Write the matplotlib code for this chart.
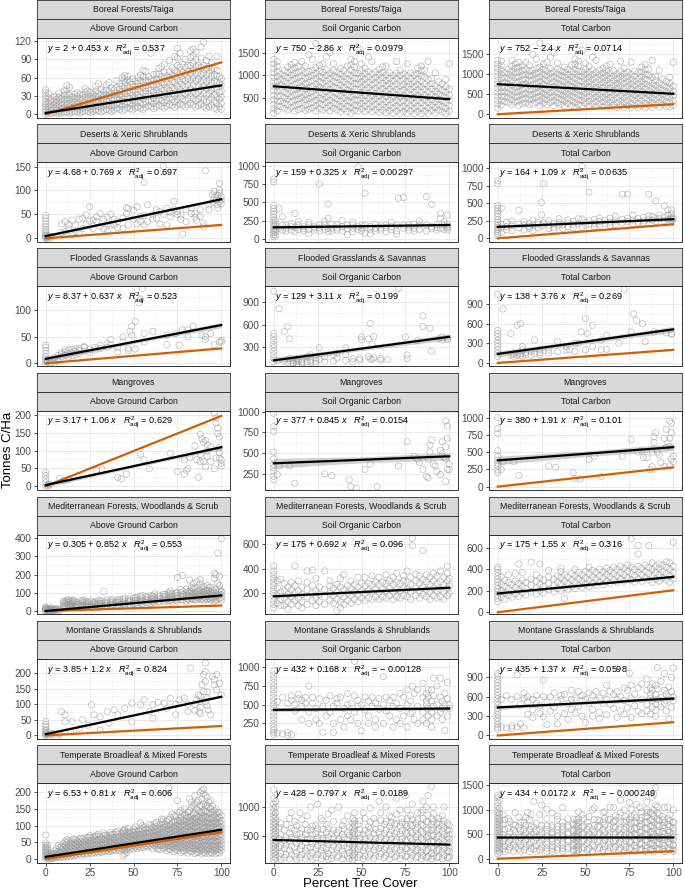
import numpy as np
import matplotlib
matplotlib.use("Agg")
import matplotlib.pyplot as plt
from matplotlib.ticker import FixedLocator, AutoMinorLocator

plt.rcParams['font.family'] = ['Liberation Sans', 'DejaVu Sans']
plt.rcParams['mathtext.fontset'] = 'custom'
plt.rcParams['mathtext.rm'] = 'Liberation Sans'
plt.rcParams['mathtext.it'] = 'Liberation Sans:italic'

biomes = ['Boreal Forests/Taiga', 'Deserts & Xeric Shrublands', 'Flooded Grasslands & Savannas',
          'Mangroves', 'Mediterranean Forests, Woodlands & Scrub', 'Montane Grasslands & Shrublands',
          'Temperate Broadleaf & Mixed Forests']
pools = ['Above Ground Carbon', 'Soil Organic Carbon', 'Total Carbon']

# fitted lines (intercept, slope, adj R2)
agc_a = [2, 4.68, 8.37, 3.17, 0.305, 3.85, 6.53]
agc_b = [0.453, 0.769, 0.637, 1.06, 0.852, 1.2, 0.81]
agc_r2 = ['0.537', '0.697', '0.523', '0.629', '0.553', '0.824', '0.606']
soc_a = [750, 159, 129, 377, 175, 432, 428]
soc_b = [-2.86, 0.325, 3.11, 0.845, 0.692, 0.168, -0.797]
soc_r2 = ['0.0979', '0.00297', '0.199', '0.0154', '0.096', '-0.00128', '0.0189']
tot_a = [752, 164, 138, 380, 175, 435, 434]
tot_b = [-2.4, 1.09, 3.76, 1.91, 1.55, 1.37, 0.0172]
tot_r2 = ['0.0714', '0.0635', '0.269', '0.101', '0.316', '0.0598', '-0.000249']

# confidence band half widths at x = 0, 50, 100
agc_band = [(1, 0.5, 1), (3, 2, 3), (5, 3, 5), (6, 4, 6), (2, 1, 2), (3, 2, 3), (1, 0.5, 1)]
soc_band = [(8, 5, 8), (12, 8, 12), (40, 25, 40), (60, 35, 45), (10, 6, 10), (25, 15, 25), (6, 4, 6)]
tot_band = [(8, 5, 8), (15, 10, 15), (45, 30, 45), (60, 40, 50), (12, 8, 12), (30, 20, 30), (7, 5, 7)]

# orange reference line value at 100% cover (AGC and total only)
agc_ref = [85, 28, 28, 197, 30, 30, 80]
tot_ref = [250, 200, 200, 280, 205, 205, 155]

# scatter points, as (tree cover, [carbon values])
bor_agc = [(0, [0, 4, 8, 12, 16, 20, 25, 30, 35, 40]), (3, [1, 6, 11, 16, 22]), (6, [2, 7, 12, 18, 24, 30]),
           (9, [2, 8, 14, 20, 26]), (12, [3, 9, 15, 21, 27, 33, 40, 47]), (15, [3, 9, 15, 21, 28]),
           (18, [4, 10, 16, 22, 29, 35]), (21, [4, 10, 17, 24, 31]), (24, [5, 11, 18, 25, 32, 38]),
           (27, [5, 12, 19, 26, 33]), (30, [6, 13, 20, 27, 34, 50]), (33, [6, 13, 21, 29, 36]),
           (36, [7, 14, 22, 30, 38, 52]), (39, [7, 15, 23, 31, 40]), (42, [8, 16, 24, 32, 41, 50]),
           (45, [8, 16, 25, 34, 43, 52, 58, 63]), (48, [9, 17, 26, 35, 44, 53]), (51, [10, 18, 27, 36, 45, 54]),
           (54, [10, 19, 28, 37, 46, 55, 64]), (57, [11, 20, 29, 38, 47, 56, 70]),
           (60, [12, 21, 30, 39, 48, 57, 100]), (63, [12, 22, 31, 40, 49, 58, 66]),
           (66, [13, 22, 32, 42, 52, 62, 78]), (69, [13, 23, 33, 43, 53, 63]),
           (72, [14, 24, 34, 44, 54, 64, 76]), (75, [14, 24, 35, 46, 57, 68, 80, 92, 108]),
           (78, [15, 25, 36, 47, 58, 69, 82]), (81, [15, 26, 37, 48, 59, 70, 80]),
           (84, [15, 26, 37, 48, 60, 72, 84, 96, 107]), (87, [14, 25, 36, 47, 58, 69, 80]),
           (90, [13, 24, 35, 46, 57, 68, 80, 118]), (93, [12, 23, 34, 45, 56, 67, 78, 95]),
           (96, [10, 21, 32, 43, 54, 65, 75]), (100, [8, 18, 28, 38, 48, 58])]
bor_agc2 = [(1.5, [2, 7, 13, 19, 27, 34]), (4.5, [3, 9, 15, 21, 28]), (7.5, [1, 5, 10, 16, 22, 28, 35]),
            (10.5, [4, 10, 17, 24, 31, 38]), (13.5, [2, 6, 12, 18, 25, 32, 44]), (16.5, [5, 12, 19, 26, 33]),
            (19.5, [2, 7, 13, 19, 26, 33]), (22.5, [6, 13, 20, 28, 36, 42]), (25.5, [3, 8, 15, 22, 29, 36]),
            (28.5, [7, 14, 22, 30, 38, 46]), (31.5, [4, 10, 17, 24, 32, 40]), (34.5, [8, 16, 24, 32, 40, 48]),
            (37.5, [5, 11, 18, 26, 34, 43]), (40.5, [10, 18, 27, 35, 44, 55]),
            (43.5, [6, 13, 21, 29, 37, 46, 60]), (46.5, [11, 20, 29, 38, 47, 56, 62]),
            (49.5, [7, 14, 22, 31, 40, 49, 58]), (52.5, [12, 22, 32, 41, 50, 60]),
            (55.5, [8, 16, 25, 34, 43, 52, 61, 72]), (58.5, [14, 23, 33, 43, 53, 62]),
            (61.5, [9, 17, 26, 36, 46, 55, 65]), (64.5, [15, 25, 35, 46, 56, 66, 75]),
            (67.5, [10, 19, 29, 39, 49, 59, 69, 82]), (70.5, [16, 27, 38, 49, 60, 70, 88]),
            (73.5, [11, 20, 30, 41, 52, 62, 72, 95]), (76.5, [17, 29, 41, 53, 65, 77, 100]),
            (79.5, [12, 22, 33, 44, 55, 66, 77, 90]), (82.5, [18, 30, 42, 55, 67, 80, 93, 104]),
            (85.5, [12, 22, 33, 44, 55, 66, 78, 90, 102]), (88.5, [17, 29, 41, 53, 65, 77, 92, 110]),
            (91.5, [10, 20, 31, 42, 53, 64, 75, 88]), (94.5, [15, 27, 39, 51, 62, 73, 84]),
            (97.5, [8, 18, 28, 40, 52, 63, 72, 95]), (99, [12, 24, 36, 50, 62])]
bor_soc = [(0, [150, 250, 350, 450, 550, 650, 750, 850, 950, 1050, 1150, 1250, 1350]),
           (4, [300, 420, 540, 660, 780, 900, 1020]), (8, [220, 340, 460, 580, 700, 820, 940, 1060, 1180]),
           (12, [200, 320, 440, 560, 680, 800, 920, 1040, 1160, 1280]),
           (16, [260, 380, 500, 620, 740, 860, 980, 1100, 1300]),
           (20, [240, 360, 480, 600, 720, 840, 960, 1080, 1450]),
           (24, [200, 320, 440, 560, 680, 800, 920, 1040, 1160, 1700]),
           (28, [220, 340, 460, 580, 700, 820, 940, 1060, 1250]),
           (32, [200, 320, 440, 560, 680, 800, 920, 1040, 1500]),
           (36, [230, 350, 470, 590, 710, 830, 950, 1070]), (40, [250, 370, 490, 610, 730, 850, 970, 1100]),
           (44, [150, 270, 390, 510, 630, 750, 870, 990, 1110, 1230, 1350]),
           (48, [200, 320, 440, 560, 680, 800, 920, 1040, 1600]),
           (52, [190, 310, 430, 550, 670, 790, 910, 1030, 1150]),
           (56, [180, 300, 420, 540, 660, 780, 900, 1020, 1300]),
           (60, [170, 290, 410, 530, 650, 770, 890, 1010, 1130]),
           (64, [160, 280, 400, 520, 640, 760, 880, 1000, 1200]),
           (68, [150, 270, 390, 510, 630, 750, 870, 990]),
           (72, [150, 270, 390, 510, 630, 750, 870, 990, 1100]),
           (76, [140, 260, 380, 500, 620, 740, 860, 980, 1250]),
           (80, [140, 260, 380, 500, 620, 740, 860, 1000]),
           (84, [140, 260, 380, 500, 620, 740, 860, 980, 1100, 1200]),
           (88, [150, 270, 390, 510, 630, 750, 900, 1300]), (92, [160, 280, 400, 520, 640, 760, 1050]),
           (96, [180, 300, 420, 540, 660, 800]), (100, [200, 320, 440, 560, 680, 1250])]
bor_soc2 = [(2, [200, 310, 420, 530, 640, 750, 860, 970, 1080, 1190, 1300]),
            (6, [260, 380, 500, 620, 740, 860, 980, 1100]), (10, [280, 400, 520, 640, 760, 880, 1000, 1120, 1230]),
            (14, [230, 350, 470, 590, 710, 830, 950, 1070, 1190]),
            (18, [210, 330, 450, 570, 690, 810, 930, 1050, 1200]),
            (22, [270, 390, 510, 630, 750, 870, 990, 1110, 1350]),
            (26, [250, 370, 490, 610, 730, 850, 970, 1090, 1220]),
            (30, [270, 390, 510, 630, 750, 870, 990, 1110, 1400]),
            (34, [260, 380, 500, 620, 740, 860, 980, 1100, 1250]),
            (38, [180, 300, 420, 540, 660, 780, 900, 1020, 1150]),
            (42, [190, 310, 430, 550, 670, 790, 910, 1030, 1200]),
            (46, [210, 330, 450, 570, 690, 810, 930, 1050, 1180, 1300]),
            (50, [250, 370, 490, 610, 730, 850, 970, 1090, 1250]),
            (54, [240, 360, 480, 600, 720, 840, 960, 1080, 1400]),
            (58, [230, 350, 470, 590, 710, 830, 950, 1070]),
            (62, [220, 340, 460, 580, 700, 820, 940, 1060, 1180]),
            (66, [210, 330, 450, 570, 690, 810, 930, 1050]),
            (70, [200, 320, 440, 560, 680, 800, 920, 1040, 1300]),
            (74, [190, 310, 430, 550, 670, 790, 910, 1030]),
            (78, [200, 320, 440, 560, 680, 800, 920, 1050]),
            (82, [190, 310, 430, 550, 670, 790, 910, 1030, 1150]),
            (86, [200, 320, 440, 560, 680, 800, 950, 1100]), (90, [210, 330, 450, 570, 690, 810, 920]),
            (94, [220, 340, 460, 580, 700, 850]), (98, [150, 260, 380, 500, 620, 740, 900])]
bor_tot = [(0, [150, 250, 350, 450, 550, 650, 750, 850, 950, 1050, 1150, 1250, 1350]),
           (4, [320, 440, 560, 680, 800, 920, 1040]),
           (8, [240, 360, 480, 600, 720, 840, 960, 1080, 1200, 1350]),
           (12, [220, 340, 460, 580, 700, 820, 940, 1060, 1180, 1300]),
           (16, [280, 400, 520, 640, 760, 880, 1000, 1120, 1300]),
           (20, [260, 380, 500, 620, 740, 860, 980, 1100, 1500]),
           (24, [220, 340, 460, 580, 700, 820, 940, 1060, 1180, 1780]),
           (28, [240, 360, 480, 600, 720, 840, 960, 1080, 1300]),
           (32, [220, 340, 460, 580, 700, 820, 940, 1060, 1550]),
           (36, [250, 370, 490, 610, 730, 850, 970, 1090]), (40, [270, 390, 510, 630, 750, 870, 990, 1120]),
           (44, [170, 290, 410, 530, 650, 770, 890, 1010, 1130, 1250, 1380]),
           (48, [220, 340, 460, 580, 700, 820, 940, 1060, 1600]),
           (52, [210, 330, 450, 570, 690, 810, 930, 1050, 1200]),
           (56, [200, 320, 440, 560, 680, 800, 920, 1040, 1350]),
           (60, [190, 310, 430, 550, 670, 790, 910, 1030, 1150]),
           (64, [180, 300, 420, 540, 660, 780, 900, 1020, 1250]),
           (68, [170, 290, 410, 530, 650, 770, 890, 1010]),
           (72, [170, 290, 410, 530, 650, 770, 890, 1010, 1150]),
           (76, [160, 280, 400, 520, 640, 760, 880, 1000, 1300]),
           (80, [160, 280, 400, 520, 640, 760, 880, 1050]),
           (84, [160, 280, 400, 520, 640, 760, 880, 1000, 1120, 1250]),
           (88, [170, 290, 410, 530, 650, 770, 920, 1350]), (92, [180, 300, 420, 540, 660, 780, 1100]),
           (96, [200, 320, 440, 560, 680, 820]), (100, [220, 340, 460, 580, 700, 1300])]
bor_tot2 = [(2, [230, 340, 450, 560, 670, 780, 890, 1000, 1110, 1220, 1330]),
            (6, [290, 410, 530, 650, 770, 890, 1010, 1130]), (10, [310, 430, 550, 670, 790, 910, 1030, 1150, 1260]),
            (14, [260, 380, 500, 620, 740, 860, 980, 1100, 1220]),
            (18, [240, 360, 480, 600, 720, 840, 960, 1080, 1230]),
            (22, [300, 420, 540, 660, 780, 900, 1020, 1140, 1380]),
            (26, [280, 400, 520, 640, 760, 880, 1000, 1120, 1250]),
            (30, [300, 420, 540, 660, 780, 900, 1020, 1140, 1430]),
            (34, [290, 410, 530, 650, 770, 890, 1010, 1130, 1280]),
            (38, [210, 330, 450, 570, 690, 810, 930, 1050, 1180]),
            (42, [220, 340, 460, 580, 700, 820, 940, 1060, 1230]),
            (46, [240, 360, 480, 600, 720, 840, 960, 1080, 1210, 1330]),
            (50, [280, 400, 520, 640, 760, 880, 1000, 1120, 1280]),
            (54, [270, 390, 510, 630, 750, 870, 990, 1110, 1430]),
            (58, [260, 380, 500, 620, 740, 860, 980, 1100]),
            (62, [250, 370, 490, 610, 730, 850, 970, 1090, 1210]),
            (66, [240, 360, 480, 600, 720, 840, 960, 1080]),
            (70, [230, 350, 470, 590, 710, 830, 950, 1070, 1330]),
            (74, [220, 340, 460, 580, 700, 820, 940, 1060]),
            (78, [230, 350, 470, 590, 710, 830, 950, 1080]),
            (82, [220, 340, 460, 580, 700, 820, 940, 1060, 1180]),
            (86, [230, 350, 470, 590, 710, 830, 980, 1130]), (90, [240, 360, 480, 600, 720, 840, 950]),
            (94, [250, 370, 490, 610, 730, 880]), (98, [180, 290, 410, 530, 650, 770, 930])]

des_agc = [(0, [0, 2, 4, 7, 10, 14, 18, 24, 30, 36, 42, 48]), (1, [0, 3, 6]), (3, [1, 4]), (9, [12, 30]),
           (11, [14, 35]), (13, [28, 20]), (15, [38, 8]), (17, [28, 14]), (19, [10, 40]), (21, [42, 20]),
           (23, [49, 30]), (25, [66, 36]), (27, [21, 38]), (29, [35, 45]), (31, [52, 25]), (33, [40, 20]),
           (35, [45, 14, 30]), (37, [50, 28]), (39, [28, 40]), (41, [35, 22]), (44, [42, 21]), (46, [52, 64]),
           (47, [28, 62]), (50, [59, 40]), (52, [66, 30]), (54, [35, 46]), (56, [117, 28, 48]), (58, [70, 35]),
           (61, [49, 40]), (63, [42, 60]), (65, [56, 30]), (67, [150, 50]), (69, [63, 28]), (71, [55, 45]),
           (73, [77, 60]), (75, [56, 50]), (77, [49, 40]), (78, [9]), (80, [35, 60]), (83, [63, 52]),
           (85, [52, 44]), (86, [38]), (88, [45, 60]), (90, [24, 30]), (91, [141]), (93, [70, 60]),
           (95, [91, 75]), (96, [98, 85]), (97, [80, 90]), (98, [70, 63, 90]), (99, [101, 115, 77, 95]),
           (100, [87, 80, 72])]
des_soc = [(0, [30, 60, 90, 120, 150, 180, 220, 260, 300, 340, 380, 420, 460, 780, 820]),
           (1, [50, 100, 140, 200, 250]), (3, [420, 150]), (5, [305, 120, 190]), (7, [190, 110, 150]),
           (10, [170, 120, 210]), (12, [350, 100, 160]), (14, [190, 130, 240]), (17, [170, 110, 140]),
           (20, [190, 70, 130, 230]), (23, [170, 120, 150]), (26, [750, 190, 110, 150]), (29, [190, 130, 240]),
           (31, [480, 283, 146, 100]), (33, [146, 200, 110]), (36, [190, 120, 150]), (39, [170, 110, 250]),
           (42, [190, 140, 60]), (45, [190, 100, 150, 230]), (48, [985, 170, 130]), (50, [190, 110, 150]),
           (52, [625, 190, 80]), (55, [170, 130, 70]), (58, [146, 200, 110]), (61, [190, 120, 150]),
           (64, [190, 100, 160]), (67, [170, 130, 230]), (70, [190, 110, 70]), (71, [557]),
           (74, [570, 146, 190]), (77, [190, 120, 160]), (80, [146, 200, 110]), (83, [190, 130, 250]),
           (87, [580, 190, 110]), (90, [475, 170, 140]), (93, [190, 120, 160]), (95, [350, 283, 146]),
           (97, [237, 190, 130]), (99, [330, 170, 150, 200, 120])]
des_tot = [(0, [40, 70, 100, 130, 160, 190, 230, 270, 310, 350, 390, 430, 470, 780, 820]),
           (2, [430, 80, 150, 200]), (5, [120, 170, 230]), (8, [180, 110, 250]), (12, [400, 150, 200]),
           (15, [190, 120, 240]), (18, [210, 140, 170]), (20, [190, 260, 110]), (23, [200, 150, 230]),
           (25, [510, 333, 180]), (26, [780, 220]), (29, [190, 140, 250]), (32, [210, 160, 120]),
           (35, [230, 190, 280]), (37, [190, 140]), (40, [220, 170, 260]), (43, [240, 190, 150]),
           (46, [280, 210]), (48, [1024, 276, 160]), (50, [230, 190]), (52, [660, 250, 200]),
           (55, [270, 210, 160]), (58, [240, 190, 290]), (61, [260, 210]), (64, [290, 230, 180]),
           (67, [250, 200, 310]), (71, [630, 270, 220]), (74, [630, 290, 240]), (77, [260, 210, 330]),
           (80, [280, 230]), (83, [300, 250, 210]), (86, [630, 270, 320]), (88, [310, 260]),
           (90, [533, 290, 240]), (92, [333, 280]), (95, [462, 300, 250]), (97, [405, 330, 270]),
           (99, [405, 300, 260, 280, 350]), (100, [270, 290])]

fl_agc = [(0, [0, 4, 8, 12, 18, 24, 30, 34]), (1, [4, 2]), (3, [1, 6]), (5, [11, 3, 0]), (7, [5, 15]),
          (9, [17, 12, 20]), (11, [21, 15, 25]), (13, [18, 25, 12]), (15, [26, 20, 14]), (17, [27, 22, 16]),
          (19, [24, 18, 28]), (22, [30, 23, 32]), (25, [26, 20]), (28, [30, 25]), (31, [34, 28]),
          (35, [37, 30]), (37, [45, 35]), (41, [21, 30]), (44, [40, 50]), (47, [24, 28]), (48, [60]),
          (49, [53, 70]), (51, [79, 27]), (53, [114]), (54, [121]), (55, [141]), (56, [56, 40]), (61, [60]),
          (69, [53, 35]), (74, [56]), (76, [34]), (78, [63]), (81, [63, 50]), (84, [70]), (89, [53]),
          (91, [50, 45]), (94, [56]), (96, [35]), (99, [40]), (100, [43, 40])]
fl_soc = [(0, [108, 150, 202, 250, 296, 340, 390, 440, 483, 1042]), (3, [812]), (6, [507, 120]), (8, [577, 100]),
          (9, [155, 413, 130]), (11, [131, 90, 100]), (13, [110, 80, 150]), (14, [61, 120]), (16, [108, 90, 140]),
          (19, [85, 178, 110]), (21, [131, 202, 100]), (24, [155, 120, 90]), (26, [296, 140]), (29, [178, 110]),
          (34, [202, 120]), (36, [225, 160]), (41, [202, 296, 130]), (45, [150, 110]), (49, [155, 130]),
          (50, [437, 400]), (54, [413, 180]), (55, [615, 150]), (56, [343, 140]), (57, [446, 160]),
          (61, [155, 130]), (65, [140]), (71, [1080]), (75, [437]), (76, [155, 200]), (82, [390]),
          (85, [718, 577]), (89, [554]), (90, [249]), (94, [413]), (96, [437, 400]), (99, [413, 400])]
fl_tot = [(0, [100, 150, 200, 250, 300, 350, 400, 450, 500, 1050]), (3, [825]), (7.5, [450, 120]),
          (9, [150, 100, 130]), (11, [575, 120]), (13, [600, 110, 140]), (14, [200, 250, 100]), (16, [130, 160]),
          (19, [175, 120]), (21, [350, 140]), (24, [200, 130, 160]), (29, [200, 150]), (34, [325, 170]),
          (39, [250, 200]), (41, [200]), (44, [300, 180]), (46, [300]), (47.5, [475]), (50, [675, 200]),
          (51, [450]), (54, [575, 250]), (59, [350, 200]), (62, [425, 210]), (69, [300]), (72, [1125]),
          (76, [475]), (77.5, [750]), (79, [650]), (82.5, [600]), (84, [325]), (89, [475]), (96, [460]),
          (99, [450, 440])]

mg_agc = [(0, [2, 10, 20, 30, 39]), (1, [0]), (2, [5, 3]), (8, [22]), (10, [15]), (13, [20]), (29, [44]),
          (32, [47]), (41, [25]), (43, [20]), (46, [34]), (54, [89]), (56, [74]), (59, [49]), (71, [92]),
          (75, [41]), (79, [34, 74]), (80, [44]), (81, [49]), (82, [81]), (85, [113]), (86, [74]), (87, [25]),
          (88, [69, 146, 89]), (89, [133]), (90, [123, 69]), (91, [128, 54]), (92, [116, 98, 84]),
          (94, [69, 110]), (96, [205, 49]), (97, [192, 79, 177]), (98, [163, 148]), (99, [138, 108, 94, 79]),
          (100, [74, 64, 56])]
mg_soc = [(0, [980, 825, 760, 512, 430, 367, 325, 283, 220, 180]), (2, [242]), (3, [345]), (9, [345]),
          (12, [137]), (29, [250]), (33, [229]), (43, [179]), (44, [96]), (47, [75]), (52, [304]), (55, [367]),
          (59, [96]), (71, [345]), (76, [637]), (80, [462]), (82, [429]), (83, [387]), (85, [304]), (87, [220]),
          (88, [429, 200]), (89, [512, 596]), (90, [658]), (91, [367]), (92, [345]), (93, [283]),
          (95, [533, 242]), (96, [492, 637]), (97, [450]), (98, [429, 887, 575, 158]), (99, [825, 679, 304]),
          (100, [367, 300])]
mg_tot = [(0, [1000, 840, 770, 520, 440, 380, 340, 300, 240, 200]), (2, [250]), (3, [360]), (9, [360]),
          (12, [160]), (29, [300]), (33, [280]), (43, [200]), (44, [120]), (47, [110]), (52, [390]), (55, [440]),
          (59, [145]), (71, [440]), (76, [680]), (80, [500]), (82, [510]), (83, [420]), (85, [420]), (87, [245]),
          (88, [500, 290]), (89, [640, 720]), (90, [780]), (91, [500]), (92, [460]), (93, [350]),
          (95, [700, 290]), (96, [570, 830]), (97, [630]), (98, [580, 950, 700, 300]), (99, [920, 780, 400]),
          (100, [440, 360])]

med_agc = [(0, [0, 3, 6, 10, 14, 18, 22]), (2, [0, 4, 8, 12]), (4, [1, 5, 10]), (6, [2, 8, 14]), (8, [4, 10]),
           (10, [20, 30, 45, 55]), (12, [25, 35, 50, 60]), (14, [20, 30, 40, 55]), (16, [25, 40, 50, 60]),
           (18, [20, 35, 45]), (20, [25, 40, 55]), (22, [20, 30, 45, 60]), (24, [25, 35, 50]),
           (26, [20, 30, 40, 55]), (28, [25, 40, 50]), (30, [20, 35, 45, 60]), (32, [25, 40, 55]), (33, [108]),
           (35, [30, 45, 60]), (38, [25, 35, 50, 65]), (40, [30, 45, 55]), (42, [35, 50, 65]),
           (45, [30, 40, 55, 70]), (48, [35, 50, 60]), (50, [40, 55, 70]), (52, [35, 45, 60, 75]),
           (55, [40, 55, 70, 85]), (58, [45, 60, 75]), (60, [40, 55, 70, 85]), (62, [45, 60, 75, 95]),
           (65, [50, 65, 80]), (68, [50, 65, 80, 90]), (70, [55, 70, 85, 100]), (72, [50, 65, 80, 95]),
           (75, [55, 70, 85, 100, 185]), (78, [60, 75, 90, 110, 195]), (80, [55, 70, 85, 100, 120]),
           (82, [60, 80, 95, 110, 170]), (84, [65, 80, 95, 122, 150]), (86, [60, 75, 90, 105, 160]),
           (88, [65, 80, 95, 113, 172, 150]), (90, [60, 75, 90, 105, 120, 135]), (92, [65, 80, 95, 113, 140]),
           (94, [60, 75, 90, 105, 131]), (96, [55, 70, 85, 100, 208, 180]), (97, [60, 80, 95, 199, 120]),
           (98, [65, 85, 100, 318, 150]), (100, [60, 75, 90, 105, 396, 110])]
med_agc2 = [(1, [2, 5, 9, 13]), (3, [3, 7, 12, 18]), (5, [0, 4, 9]), (11, [28, 40, 50]), (13, [22, 35, 48, 62]),
            (15, [28, 45, 58]), (17, [22, 32, 50]), (21, [28, 48, 58]), (23, [25, 40, 52]), (27, [22, 35, 48]),
            (31, [28, 42, 55]), (34, [30, 40, 50]), (37, [28, 45, 58]), (41, [32, 48, 60]), (44, [35, 45, 62]),
            (47, [38, 52, 66]), (51, [42, 58, 72]), (54, [45, 60, 78]), (57, [48, 62, 80]), (61, [50, 65, 82]),
            (64, [52, 70, 88]), (67, [55, 72, 92]), (71, [58, 75, 95, 110]), (74, [60, 78, 98]),
            (77, [62, 80, 100, 118]), (81, [65, 82, 105]), (83, [68, 88, 108, 130]), (85, [62, 80, 100, 125]),
            (87, [70, 90, 110]), (89, [65, 85, 105, 130]), (91, [70, 92, 112]), (93, [68, 88, 110, 128]),
            (95, [72, 95, 115]), (99, [70, 90, 115, 140, 190])]
med_soc = [(0, [80, 110, 140, 170, 200, 230, 260, 290, 320, 350, 380, 420]), (2, [120, 180, 240, 300]),
           (4, [150, 210, 313, 100]), (6, [100, 160, 220, 280]), (8, [130, 190, 250, 70]),
           (10, [110, 170, 230, 290]), (12, [140, 200, 260, 422]), (14, [100, 160, 220, 300]),
           (16, [130, 190, 250, 80]), (19, [110, 170, 230, 381, 290]), (22, [140, 200, 260, 386]),
           (24, [100, 160, 220, 320]), (26, [130, 190, 250]), (29, [110, 170, 230, 381]),
           (32, [140, 200, 260, 300]), (34, [120, 180, 240]), (36, [60, 150, 210, 270]),
           (38, [80, 130, 190, 250, 320]), (40, [110, 170, 230, 350]), (42, [140, 200, 260]),
           (44, [120, 180, 240, 300]), (46, [150, 210, 270]), (48, [130, 190, 250, 330]), (50, [160, 220, 280]),
           (52, [140, 200, 260, 330]), (54, [160, 220, 280]), (56, [150, 210, 270, 340]), (58, [170, 230, 290]),
           (60, [150, 210, 270, 330]), (62, [170, 230, 290]), (64, [160, 220, 280, 350]), (66, [180, 240, 300]),
           (68, [150, 210, 270, 330]), (70, [170, 230, 290, 360]), (72, [160, 220, 280]),
           (74, [180, 240, 300, 340]), (76, [170, 230, 290, 380]), (78, [150, 210, 270, 330]), (79, [646, 586]),
           (81, [180, 240, 300, 354]), (83, [160, 220, 280, 340]), (85, [544, 190, 250, 310]),
           (87, [170, 230, 290, 350]), (89, [150, 210, 270, 330]), (91, [180, 240, 300, 360]),
           (93, [160, 220, 280, 340]), (95, [170, 230, 290, 380]), (97, [150, 210, 270, 330]),
           (99, [180, 240, 300, 360, 420]), (100, [200, 260, 320])]
med_tot = [(0, [100, 130, 160, 190, 220, 250, 280, 310, 340, 370, 400, 420]), (2, [140, 200, 260, 330]),
           (4, [120, 180, 240, 300]), (6, [160, 220, 280, 350]), (8, [140, 200, 260]), (10, [170, 230, 290, 360]),
           (12, [150, 210, 270, 450]), (14, [180, 240, 300, 370]), (16, [160, 220, 280]),
           (19, [190, 250, 310, 466]), (22, [170, 230, 290, 350]), (24, [200, 260, 320, 450]),
           (26, [180, 240, 300]), (29, [210, 270, 330, 390]), (32, [190, 250, 310]), (34, [220, 280, 340]),
           (36, [200, 260, 320, 380, 410]), (38, [130, 230, 290, 350]), (40, [210, 270, 330]),
           (42, [240, 300, 360]), (44, [220, 280, 340, 400]), (46, [250, 310, 370]), (48, [230, 290, 350]),
           (50, [260, 320, 380]), (52, [240, 300, 360, 420]), (54, [270, 330, 390]), (56, [250, 310, 370]),
           (58, [280, 340, 400]), (60, [260, 320, 380]), (62, [290, 350, 410]), (64, [270, 330, 390]),
           (66, [300, 360, 420]), (68, [280, 340, 400]), (70, [310, 370, 430]), (72, [290, 350, 410]),
           (74, [320, 380, 440]), (76, [300, 360, 420, 684]), (78, [280, 340, 400]),
           (80, [310, 370, 430, 622, 544]), (82, [290, 350, 410]), (84, [320, 380, 440]),
           (86, [300, 360, 420, 622]), (88, [280, 340, 400, 460]), (90, [310, 370, 430]),
           (92, [290, 350, 410, 450]), (94, [320, 380, 440]), (96, [300, 360, 420, 470]),
           (98, [280, 340, 400, 460]), (100, [310, 370, 430, 653])]

mt_agc = [(0, [0, 3, 6, 10, 15, 20, 28, 35, 45]), (2, [2, 8]), (4, [6, 1]), (7.5, [6, 3]), (9, [76]),
          (11, [66, 44]), (14, [12]), (15, [44]), (19, [22]), (21, [50]), (24, [33]), (26, [98]), (27.5, [66]),
          (31, [60, 17]), (35, [76]), (36, [39]), (39, [82]), (41, [66]), (45, [87]), (49, [103, 44]),
          (54, [98]), (56, [114]), (59, [76]), (61, [98, 55]), (64, [106]), (67.5, [103]), (69, [87]),
          (71, [119]), (74, [100, 66]), (76, [114]), (79, [119]), (81, [98, 76]), (82.5, [216]),
          (85, [80, 100]), (86, [114]), (87, [130]), (87.5, [76]), (88, [70, 90, 110, 125]), (89, [162]),
          (90, [195, 141]), (91, [232, 205, 173, 108]), (92, [95, 120, 140]), (92.5, [82]), (94, [66]),
          (95, [189]), (96, [178, 162]), (97.5, [195, 146]), (99, [167]), (100, [130])]
mt_soc = [(0, [100, 130, 160, 200, 250, 300, 350, 400, 450, 500, 550, 600, 650, 700, 750, 800, 850, 900, 950]),
          (2, [120, 540]), (5, [110, 600]), (8, [130, 90, 520]), (10, [100, 560, 620]), (12, [420, 500]),
          (14, [640, 580]), (16, [480, 560, 300]), (18, [600, 520]), (20, [750, 400, 250]), (22, [520, 600]),
          (24, [450, 300]), (26, [580, 250]), (28, [480, 130]), (30, [560, 350]), (32, [620, 400]),
          (34, [250, 480, 130]), (36, [520, 580]), (38, [600, 300]), (40, [450, 200]), (42, [500, 650, 350]),
          (44, [520, 300]), (46, [1081, 620, 400]), (48, [560, 250, 480]), (50, [500, 150]), (52, [430, 600]),
          (54, [250, 550, 350]), (56, [600, 480]), (58, [200, 520, 300]), (60, [580, 440]),
          (62.5, [878, 500, 250]), (64, [420, 600]), (66, [350, 560]), (68, [600, 200, 480]), (70, [520, 300]),
          (72, [450, 650, 250]), (74, [600, 350]), (76, [500, 200, 700]), (78, [550, 380]), (79, [405, 750]),
          (80, [650, 300]), (82, [480, 700, 250]), (85, [788, 600, 400, 300]), (87, [550, 650, 250, 500]),
          (88, [700, 450, 350, 600]), (90, [698, 550, 400, 300, 200]), (91, [856, 620, 480]),
          (93, [500, 350, 750]), (95, [856, 600, 400]), (96, [450, 550, 300]), (97.5, [158, 500, 650]),
          (99, [580, 350, 800]), (100, [450, 500])]
mt_tot = [(0, [100, 130, 170, 220, 270, 320, 370, 420, 470, 520, 570, 620, 670, 720, 770, 820, 870, 920, 960]),
          (2, [130, 560]), (5, [120, 620]), (8, [150, 110, 560]), (11, [940, 130, 600]), (13, [480, 180]),
          (15, [660, 580, 120]), (17, [520, 600, 330]), (20, [560, 400, 280]), (22, [620, 500]),
          (24, [460, 340]), (26, [860, 600, 290]), (28, [520, 170]), (30, [600, 380]), (32, [660, 440]),
          (34, [300, 520, 180]), (36, [560, 620]), (38, [640, 340]), (40, [500, 250]), (42, [560, 700, 400]),
          (44, [580, 350]), (46, [680, 450]), (48, [620, 300, 540]), (50, [560, 200]), (52, [500, 660]),
          (54, [300, 620, 400]), (56, [680, 540]), (58, [260, 580, 360]), (60, [660, 500]),
          (62, [780, 560, 320]), (64, [480, 680]), (66, [420, 640]), (68, [680, 280, 560]), (70, [600, 380]),
          (72, [540, 740, 330]), (74, [700, 430]), (75, [965]), (76, [580, 280, 780]), (78, [640, 460]),
          (80, [740, 380]), (82, [560, 800, 340]), (85, [880, 700, 480, 380]), (87, [640, 740, 330, 580]),
          (88, [800, 540, 440, 700]), (90, [780, 640, 490, 390, 300]), (91, [1053, 720, 560]),
          (93, [590, 440, 840]), (95, [960, 700, 500]), (96, [540, 640, 380]), (97.5, [260, 600, 750]),
          (99, [680, 440, 900]), (100, [1045, 540, 600])]

tb_agc = [(0, [0, 5, 10, 15, 20, 25, 30, 35, 40, 48, 72]), (2, [0, 6, 12]), (4, [2, 8, 14]), (6, [3, 10, 18, 30]),
          (8, [4, 12, 20, 35]), (10, [5, 14, 24, 34, 45]), (12, [6, 16, 26, 36, 50, 58]), (14, [8, 18, 28, 38, 48]),
          (16, [10, 20, 30, 40, 50, 60]), (18, [12, 22, 32, 42, 52]), (20, [12, 22, 32, 42, 52, 62]),
          (22, [14, 24, 34, 44, 54]), (24, [15, 25, 35, 45, 55, 65]), (26, [16, 26, 36, 46, 56]),
          (28, [18, 28, 38, 48, 58, 68]), (30, [18, 28, 38, 48, 58, 75]), (32, [20, 30, 40, 50, 60]),
          (34, [22, 32, 42, 52, 62, 72]), (36, [22, 32, 42, 52, 62]), (38, [24, 34, 44, 54, 64, 74]),
          (40, [25, 35, 45, 55, 65, 80]), (42, [26, 36, 46, 56, 66]), (44, [10, 28, 38, 48, 58, 68, 78, 85]),
          (46, [20, 30, 40, 50, 60, 70, 80]), (48, [28, 38, 48, 58, 68, 78]),
          (50, [30, 40, 50, 60, 70, 80, 90]), (52, [32, 42, 52, 62, 72, 82]),
          (54, [34, 44, 54, 64, 74, 84, 108]), (56, [35, 45, 55, 65, 75, 85, 95]),
          (58, [36, 46, 56, 66, 76, 86]), (60, [38, 48, 58, 68, 78, 88, 100]),
          (62, [40, 50, 60, 70, 80, 90, 105]), (64, [30, 42, 52, 62, 72, 82, 92]),
          (66, [40, 52, 62, 72, 82, 92, 112, 120]), (68, [35, 45, 55, 65, 75, 85, 95, 105]),
          (70, [30, 40, 50, 60, 70, 80, 90, 100, 118, 212]), (72, [35, 45, 55, 65, 75, 85, 95, 108, 135]),
          (74, [30, 40, 50, 60, 70, 80, 90, 100, 110, 128]), (76, [35, 45, 55, 65, 75, 85, 95, 105, 115, 140]),
          (78, [25, 35, 45, 55, 65, 75, 85, 95, 105, 118, 138]),
          (80, [30, 40, 50, 60, 70, 80, 90, 100, 110, 120, 130]),
          (82, [25, 35, 45, 55, 65, 75, 85, 95, 105, 115, 125, 145, 180]),
          (84, [30, 40, 50, 60, 70, 80, 90, 100, 110, 120, 135, 160]),
          (86, [20, 30, 40, 50, 60, 70, 80, 90, 100, 110, 120, 130, 150, 170]),
          (88, [25, 35, 45, 55, 65, 75, 85, 95, 105, 115, 125, 140, 160, 200]),
          (90, [20, 30, 40, 50, 60, 70, 80, 90, 100, 110, 120, 130, 145, 165, 195, 210]),
          (92, [25, 35, 45, 55, 65, 75, 85, 95, 105, 115, 125, 140, 160, 185]),
          (94, [20, 30, 40, 50, 60, 70, 80, 90, 100, 110, 120, 135, 150, 175]),
          (96, [25, 35, 45, 55, 65, 75, 85, 95, 105, 115, 130, 145]),
          (98, [20, 30, 40, 50, 60, 70, 80, 90, 100, 110, 125, 140]),
          (100, [25, 35, 45, 55, 65, 75, 85, 95, 105, 115, 130])]
tb_agc2 = [(1, [3, 8, 14, 20, 27, 34, 42]), (3, [1, 5, 11, 18]), (5, [4, 9, 16, 24]), (7, [6, 14, 22, 40]),
           (9, [8, 17, 27, 38]), (11, [10, 20, 30, 40, 52]), (13, [12, 22, 32, 43, 55]), (15, [13, 24, 35, 46, 57]),
           (17, [14, 25, 36, 47, 58]), (19, [16, 27, 38, 49, 60]), (21, [17, 28, 39, 50, 61]),
           (23, [18, 30, 41, 52, 63]), (25, [20, 31, 42, 53, 64, 70]), (27, [21, 33, 44, 55, 66]),
           (29, [22, 34, 45, 56, 67, 72]), (31, [23, 35, 46, 57, 68]), (33, [24, 36, 47, 58, 70, 78]),
           (35, [26, 37, 49, 60, 71]), (37, [27, 39, 50, 61, 72, 80]), (39, [28, 40, 51, 62, 74]),
           (41, [30, 41, 53, 64, 75, 84]), (43, [31, 43, 54, 65, 77]), (45, [15, 25, 35, 45, 55, 65, 75, 85, 90]),
           (47, [33, 45, 57, 68, 80, 92]), (49, [35, 47, 59, 70, 82]), (51, [36, 48, 60, 72, 84, 96]),
           (53, [38, 50, 62, 74, 86]), (55, [39, 51, 63, 75, 88, 100]), (57, [40, 52, 64, 77, 90]),
           (59, [42, 54, 66, 79, 92, 104]), (61, [30, 44, 56, 68, 81, 94]), (63, [35, 46, 58, 71, 84, 97, 110]),
           (65, [28, 40, 52, 64, 76, 89, 102]), (67, [32, 44, 56, 68, 80, 93, 106, 118]),
           (69, [25, 37, 49, 61, 73, 86, 99, 112]), (71, [28, 40, 52, 64, 77, 90, 103, 125]),
           (73, [22, 34, 46, 58, 71, 84, 97, 112, 130]), (75, [26, 38, 50, 62, 75, 88, 102, 116, 175]),
           (77, [20, 32, 44, 57, 70, 83, 97, 111, 125, 145]), (79, [24, 36, 48, 61, 74, 87, 101, 115, 130, 150]),
           (81, [18, 30, 42, 55, 68, 82, 96, 110, 124, 140]),
           (83, [22, 34, 46, 59, 72, 86, 100, 114, 130, 155, 170]),
           (85, [16, 28, 40, 53, 66, 80, 94, 108, 122, 138, 165, 190]),
           (87, [20, 32, 44, 57, 70, 84, 98, 112, 127, 145, 175]),
           (89, [15, 27, 39, 52, 65, 79, 93, 107, 122, 138, 158, 180, 205]),
           (91, [18, 30, 42, 55, 68, 82, 96, 110, 125, 142, 160, 190]),
           (93, [15, 27, 39, 52, 65, 79, 93, 107, 121, 137, 155, 170]),
           (95, [18, 30, 42, 55, 68, 82, 96, 110, 124, 140, 158]),
           (97, [15, 27, 39, 52, 65, 79, 93, 107, 120, 135, 150]),
           (99, [18, 30, 42, 55, 68, 82, 96, 110, 124, 138])]
tb_soc = [(0, [80, 140, 200, 260, 320, 380, 440, 500, 560, 620, 680, 740, 800, 860, 920, 980, 1050, 1150, 1300]),
          (3, [150, 300, 450, 650]), (6, [120, 280, 420, 600]), (9, [100, 250, 400, 550, 800]),
          (12, [150, 300, 450, 600, 750]), (15, [120, 260, 400, 540, 900]), (18, [100, 240, 380, 520, 700]),
          (21, [150, 300, 450, 600, 1000]), (24, [120, 260, 400, 540, 680]), (27, [100, 240, 380, 520, 800]),
          (30, [140, 280, 420, 560, 700]), (33, [110, 250, 390, 530, 950]), (36, [130, 270, 410, 550]),
          (39, [100, 240, 380, 520, 680]), (42, [150, 290, 430, 570, 850]),
          (45, [80, 160, 240, 320, 400, 480, 560, 640, 720, 800]), (48, [120, 260, 400, 540, 700]),
          (51, [100, 240, 380, 520, 900]), (54, [130, 270, 410, 550, 660]), (57, [110, 250, 390, 530, 800]),
          (60, [140, 280, 420, 560, 1100]), (63, [120, 260, 400, 540, 700]),
          (66, [100, 240, 380, 520, 660, 850]), (69, [130, 270, 410, 550, 700]),
          (72, [110, 250, 390, 530, 670, 950]), (75, [140, 280, 420, 560, 700, 1200]),
          (78, [100, 220, 340, 460, 580, 700, 850]), (81, [120, 240, 360, 480, 600, 720]),
          (84, [100, 220, 340, 460, 580, 700, 900]), (87, [120, 240, 360, 480, 600, 750, 1000]),
          (90, [100, 200, 300, 400, 500, 600, 700, 800, 1350]), (93, [120, 240, 360, 480, 600, 720]),
          (96, [100, 220, 340, 460, 580, 700, 850]), (99, [120, 240, 360, 480, 600, 720]),
          (100, [150, 300, 450, 600])]
tb_soc2 = [(1, [110, 170, 230, 290, 350, 410, 470, 530, 590, 650, 710, 770, 830, 900, 1000, 1100]),
           (4, [90, 200, 330, 520, 720]), (7, [180, 340, 480, 700]), (10, [170, 320, 470, 630, 900]),
           (13, [90, 220, 370, 520, 680]), (16, [180, 330, 470, 620, 780]), (19, [150, 290, 440, 600, 850]),
           (22, [90, 210, 370, 520, 670]), (25, [180, 330, 470, 620, 1050]), (28, [160, 300, 460, 610, 760]),
           (31, [90, 200, 350, 480, 630, 880]), (34, [170, 320, 460, 600, 750]), (37, [150, 300, 450, 600, 1000]),
           (40, [180, 330, 470, 620, 760]), (43, [100, 210, 360, 510, 650]),
           (46, [120, 200, 280, 360, 440, 520, 600, 680, 760, 900]), (49, [170, 320, 460, 610, 760]),
           (52, [150, 300, 450, 600, 800]), (55, [180, 330, 480, 620, 740, 980]),
           (58, [160, 310, 460, 610, 720]), (61, [190, 330, 480, 630, 770, 900]),
           (64, [160, 300, 450, 600, 750, 1000]), (67, [180, 310, 450, 590, 730, 820]),
           (70, [150, 290, 430, 570, 710, 880, 1150]), (73, [170, 310, 450, 590, 730, 800]),
           (76, [150, 280, 410, 540, 670, 800, 950]), (79, [160, 290, 420, 550, 680, 780, 1050]),
           (82, [140, 260, 390, 520, 650, 780, 900]), (85, [160, 290, 420, 550, 680, 800, 950, 1100]),
           (88, [140, 260, 380, 500, 620, 740, 860, 1200]), (91, [150, 270, 390, 510, 630, 750, 880, 1000]),
           (94, [140, 260, 380, 500, 620, 740, 800]), (97, [160, 280, 400, 520, 640, 760, 1000]),
           (100, [120, 230, 380, 520, 680])]
tb_tot = [(0, [100, 160, 220, 280, 340, 400, 460, 520, 580, 640, 700, 760, 820, 880, 940, 1000, 1080, 1150, 1250,
               1300]),
          (3, [200, 350, 500, 700, 900]), (6, [180, 320, 460, 620, 820]), (9, [150, 300, 450, 600, 700]),
          (12, [200, 350, 500, 650, 850]), (15, [180, 320, 460, 600, 750]), (17, [945]),
          (18, [150, 300, 450, 600, 800]), (20.5, [1170, 200, 350, 500, 650]), (24, [180, 320, 460, 600, 900]),
          (28, [1013, 150, 300, 450, 600]), (31, [200, 350, 500, 650]), (34, [877, 180, 320, 460, 600]),
          (37, [150, 300, 450, 600, 750]), (40, [200, 350, 500, 650]), (43.5, [808, 180, 320, 460, 600]),
          (45, [100, 170, 240, 310, 380, 450, 520, 590, 660, 730, 800]), (48, [200, 350, 500, 650, 900]),
          (51, [180, 320, 460, 600, 750]), (54, [150, 300, 450, 600, 1000]), (57, [200, 350, 500, 650, 800]),
          (60, [180, 320, 460, 600, 750, 950]), (63, [150, 300, 450, 600, 800]),
          (66, [200, 350, 500, 650, 750, 1050]), (69, [180, 320, 460, 600, 850]),
          (72, [150, 300, 450, 600, 750, 1000]), (75, [200, 350, 500, 650, 800, 1150]),
          (78, [150, 270, 390, 510, 630, 750, 900]), (81, [180, 300, 420, 540, 660, 780, 1050]),
          (84, [150, 270, 390, 510, 630, 750, 870]), (85, [945]), (87, [180, 300, 420, 540, 660, 780, 950]),
          (89, [1322, 150, 270, 390, 510, 630, 750, 870, 1000]), (90, [1459, 1100]),
          (92, [180, 300, 420, 540, 660, 780, 900]), (95, [150, 270, 390, 510, 630, 750, 1050]),
          (98, [180, 300, 420, 540, 660, 780, 900]), (100, [150, 270, 390, 510, 630, 750, 1000])]
tb_tot2 = [(1, [130, 190, 250, 310, 370, 430, 490, 550, 610, 670, 730, 790, 850, 930, 1030, 1200]),
           (4, [150, 260, 420, 600, 800]), (7, [240, 390, 540, 760]), (10, [230, 380, 530, 680, 950]),
           (13, [150, 280, 430, 580, 740]), (16, [240, 390, 530, 680, 840]), (19, [210, 350, 500, 660, 900]),
           (22, [150, 270, 430, 580, 730]), (25, [240, 390, 530, 680, 1100]), (28, [220, 360, 520, 670, 820]),
           (31, [150, 260, 410, 540, 690, 940]), (34, [230, 380, 520, 660, 810]),
           (37, [210, 360, 510, 660, 1050]), (40, [240, 390, 530, 680, 820]), (43, [160, 270, 420, 570, 710]),
           (46, [180, 260, 340, 420, 500, 580, 660, 740, 820, 960]), (49, [230, 380, 520, 670, 820]),
           (52, [210, 360, 510, 660, 860]), (55, [240, 390, 540, 680, 800, 1040]),
           (58, [220, 370, 520, 670, 780]), (61, [250, 390, 540, 690, 830, 960]),
           (64, [220, 360, 510, 660, 810, 1060]), (67, [240, 370, 510, 650, 790, 880]),
           (70, [210, 350, 490, 630, 770, 940, 1200]), (73, [230, 370, 510, 650, 790, 860]),
           (76, [210, 340, 470, 600, 730, 860, 1010]), (79, [220, 350, 480, 610, 740, 840, 1110]),
           (82, [200, 320, 450, 580, 710, 840, 960]), (85, [220, 350, 480, 610, 740, 860, 1010, 1160]),
           (88, [200, 320, 440, 560, 680, 800, 920, 1260]), (91, [210, 330, 450, 570, 690, 810, 940, 1060]),
           (94, [200, 320, 440, 560, 680, 800, 860]), (97, [220, 340, 460, 580, 700, 820, 1060]),
           (100, [180, 290, 440, 580, 740])]

points = [[bor_agc + bor_agc2, bor_soc + bor_soc2, bor_tot + bor_tot2],
          [des_agc, des_soc, des_tot],
          [fl_agc, fl_soc, fl_tot],
          [mg_agc, mg_soc, mg_tot],
          [med_agc + med_agc2, med_soc, med_tot],
          [mt_agc, mt_soc, mt_tot],
          [tb_agc + tb_agc2, tb_soc + tb_soc2, tb_tot + tb_tot2]]

# axis setup per panel
ylims = [[(-5.4, 125), (56, 1824), (-82, 1908)],
         [(-7, 159), (-37, 1051), (-48, 1086)],
         [(-5, 145), (56, 1106), (-45, 1170)],
         [(-11, 212), (54, 1012), (-50, 1100)],
         [(-18, 418), (29, 673), (-19, 722)],
         [(-10, 245), (48, 1112), (-47, 1186)],
         [(-11, 227), (34, 1414), (-81, 1547)]]
yticks = [[[0, 30, 60, 90, 120], [500, 1000, 1500], [0, 500, 1000, 1500]],
          [[0, 50, 100, 150], [0, 250, 500, 750, 1000], [0, 250, 500, 750, 1000]],
          [[0, 50, 100], [300, 600, 900], [0, 300, 600, 900]],
          [[0, 50, 100, 150, 200], [250, 500, 750, 1000], [0, 250, 500, 750, 1000]],
          [[0, 100, 200, 300, 400], [200, 400, 600], [0, 200, 400, 600]],
          [[0, 50, 100, 150, 200], [250, 500, 750, 1000], [0, 300, 600, 900]],
          [[0, 50, 100, 150, 200], [500, 1000], [0, 500, 1000, 1500]]]


def flat(cols):
    xs, ys = [], []
    for x, yy in cols:
        xs += [x] * len(yy)
        ys += yy
    return xs, ys


W, H = 685, 892
fig = plt.figure(figsize=(W / 100, H / 100), dpi=100)

col_left = [37, 265, 489]
col_w = 193
row_top0, row_pitch, plot_h, strip_h = 38, 124.2, 79.5, 19

for i in range(7):
    for j in range(3):
        left = col_left[j]
        top = row_top0 + i * row_pitch
        ax = fig.add_axes([left / W, 1 - (top + plot_h) / H, col_w / W, plot_h / H])
        # two strips: pool just above the panel, biome on top
        for k, label in enumerate([pools[j], biomes[i]]):
            st = fig.add_axes([left / W, 1 - (top - strip_h * k) / H, col_w / W, strip_h / H])
            st.set_facecolor('#D9D9D9')
            st.set_xticks([])
            st.set_yticks([])
            for sp in st.spines.values():
                sp.set_color('#333333')
                sp.set_linewidth(0.6)
            st.text(0.5, 0.48, label, ha='center', va='center', fontsize=6.3, color='#1A1A1A',
                    transform=st.transAxes)

        ax.set_xlim(-5, 105)
        ax.set_ylim(*ylims[i][j])
        ax.xaxis.set_major_locator(FixedLocator([0, 25, 50, 75, 100]))
        ax.xaxis.set_minor_locator(FixedLocator([12.5, 37.5, 62.5, 87.5]))
        ax.yaxis.set_major_locator(FixedLocator(yticks[i][j]))
        ax.yaxis.set_minor_locator(AutoMinorLocator(2))
        ax.grid(which='major', color='#EBEBEB', lw=0.7)
        ax.grid(which='minor', color='#F2F2F2', lw=0.4)
        ax.set_axisbelow(True)
        for sp in ax.spines.values():
            sp.set_color('#333333')
            sp.set_linewidth(0.7)
        ax.tick_params(axis='both', which='major', length=2.5, width=0.6, color='#333333',
                       labelsize=7.3, labelcolor='#4D4D4D', pad=1.5)
        ax.tick_params(axis='both', which='minor', length=0)
        if i < 6:
            ax.tick_params(axis='x', which='major', length=0, labelbottom=False)

        xs, ys = flat(points[i][j])
        ax.scatter(xs, ys, s=20, facecolors='none', edgecolors='#999999', linewidths=0.55, alpha=0.6, zorder=2)

        a = [agc_a, soc_a, tot_a][j][i]
        b = [agc_b, soc_b, tot_b][j][i]
        r2 = [agc_r2, soc_r2, tot_r2][j][i]
        bw = np.array([agc_band, soc_band, tot_band][j][i])
        bx = np.array([0, 50, 100])
        by = a + b * bx
        ax.fill_between(bx, by - bw, by + bw, color='#999999', alpha=0.45, lw=0, zorder=3)
        ax.plot([0, 100], [a, a + b * 100], color='black', lw=1.6, zorder=5)
        if j == 0:
            ax.plot([0, 100], [0, agc_ref[i]], color='#D55E00', lw=1.6, zorder=4)
        elif j == 2:
            ax.plot([0, 100], [0, tot_ref[i]], color='#D55E00', lw=1.6, zorder=4)

        sign = '+' if b >= 0 else '\u2212'
        r2txt = ('\u2212 ' + r2[1:]) if r2.startswith('-') else r2
        eq = (r'$y$ = ' + format(a, 'g') + ' ' + sign + ' ' + format(abs(b), 'g') + r' $x$   ' +
              r'$R^2_{\mathrm{adj}}$ = ' + r2txt)
        ax.text(0.05, 0.86, eq, transform=ax.transAxes, fontsize=6.6, color='black', va='center', ha='left',
                zorder=6)

fig.text(8 / W, 1 - 450 / H, 'Tonnes C/Ha', rotation=90, ha='center', va='center', fontsize=9.5)
fig.text(360 / W, 1 - 884 / H, 'Percent Tree Cover', ha='center', va='center', fontsize=9.5)

fig.savefig('out.png', dpi=100)
